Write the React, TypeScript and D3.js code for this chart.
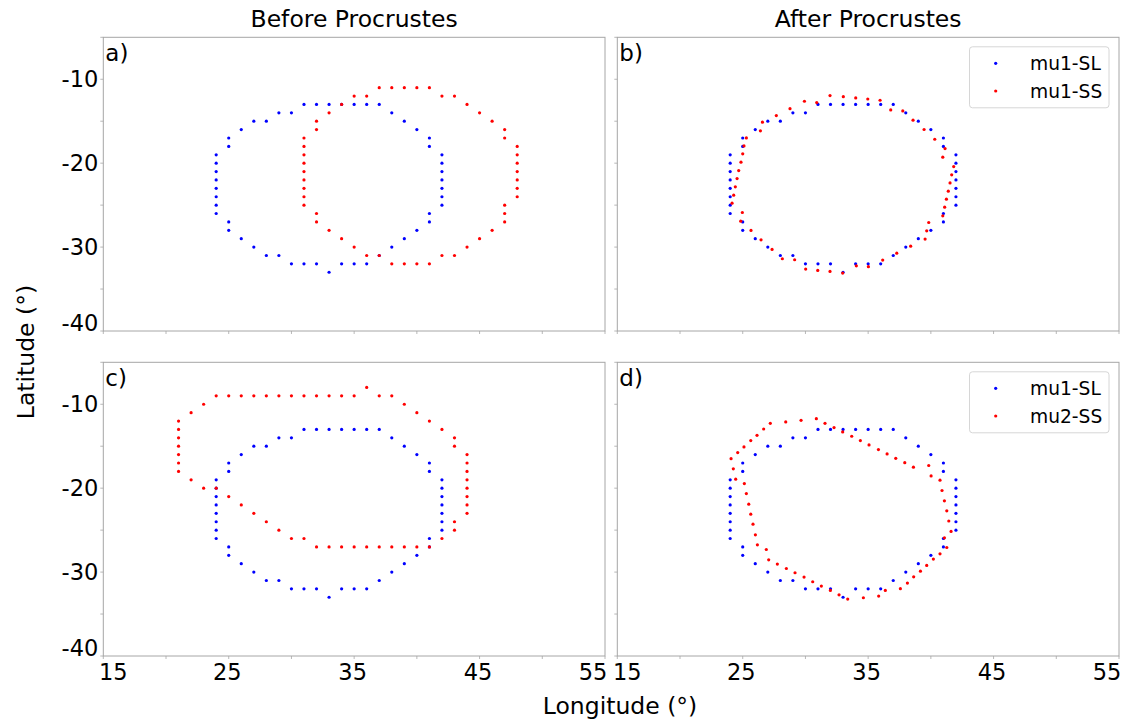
import React from "react";
import * as d3 from "d3";

type Pt = [number, number];

// Reference outline (same in every panel)
const mu1SL: Pt[] = [
  [24, -19], [24, -20], [24, -21], [24, -22], [24, -23], [24, -24], [24, -25], [24, -26],
  [25, -27], [25, -28], [26, -29], [27, -30], [28, -31], [29, -31], [30, -32], [31, -32],
  [32, -32], [33, -33], [34, -32], [35, -32], [36, -32], [37, -31], [38, -30], [39, -29],
  [40, -28], [41, -27], [41, -26],
  [42, -25], [42, -24], [42, -23], [42, -22], [42, -21], [42, -20], [42, -19],
  [41, -18], [41, -17], [40, -16], [39, -15], [38, -14],
  [37, -13], [36, -13], [35, -13], [34, -13], [33, -13], [32, -13], [31, -13],
  [30, -14], [29, -14], [28, -15], [27, -15], [26, -16], [25, -17], [25, -18],
];

// mu1-SS before alignment
const mu1SSBefore: Pt[] = [
  [31, -17], [31, -18], [31, -19], [31, -20], [31, -21], [31, -22], [31, -23], [31, -24], [31, -25],
  [32, -26], [32, -27], [33, -28], [34, -29], [35, -30], [36, -31], [37, -31], [38, -32],
  [39, -32], [40, -32], [41, -32], [42, -31], [43, -31], [44, -30], [45, -29], [46, -28],
  [47, -27], [47, -26], [47, -25],
  [48, -24], [48, -23], [48, -22], [48, -21], [48, -20], [48, -19], [48, -18],
  [47, -17], [47, -16], [46, -15], [45, -14], [44, -13], [43, -12], [42, -12], [41, -11],
  [40, -11], [39, -11], [38, -11], [37, -11], [36, -12], [35, -12], [34, -13], [33, -14],
  [32, -15], [32, -16],
];

// mu1-SS after alignment
const mu1SSAfter: Pt[] = [
  [34.97, -12.35], [34.01, -12.23], [33.02, -12.07], [31.96, -11.95], [30.9, -12.78],
  [29.92, -12.62], [28.77, -13.5], [27.68, -14.33], [26.57, -15.12], [26.41, -16.15],
  [25.29, -16.99], [25.1, -17.94], [25.0, -18.89], [24.86, -19.88], [24.68, -20.88],
  [24.55, -21.83], [24.41, -22.82], [24.28, -23.81], [24.15, -24.77], [24.97, -25.88],
  [24.84, -26.91], [25.66, -28.02], [26.46, -29.13], [27.34, -30.28], [28.16, -31.39],
  [29.14, -31.51], [30.02, -32.62], [30.98, -32.78], [31.96, -32.9], [32.97, -33.1],
  [34.06, -32.23], [35.02, -32.34],
  [36.16, -31.55], [37.28, -30.72], [38.39, -29.89], [39.54, -29.05], [39.67, -28.06],
  [39.83, -27.07], [40.95, -26.27], [41.1, -25.24], [41.24, -24.29], [41.39, -23.34],
  [41.53, -22.35], [41.66, -21.39], [41.82, -20.4], [40.95, -19.29], [41.13, -18.26],
  [40.31, -17.15], [39.46, -15.99], [38.58, -14.88], [37.76, -13.77], [36.8, -13.65],
  [35.95, -12.5],
];

// mu2-SS before alignment
const mu2SSBefore: Pt[] = [
  [21, -12], [21, -13], [21, -14], [21, -15], [21, -16], [21, -17], [21, -18],
  [22, -11], [23, -10],
  [24, -9], [25, -9], [26, -9], [27, -9], [28, -9], [29, -9], [30, -9], [31, -9],
  [32, -9], [33, -9], [34, -9], [35, -9],
  [36, -8], [37, -9], [38, -9], [39, -10], [40, -11], [41, -12], [42, -13],
  [43, -14], [43, -15],
  [44, -16], [44, -17], [44, -18], [44, -19], [44, -20], [44, -21], [44, -22], [44, -23],
  [43, -24], [43, -25], [42, -26],
  [41, -27], [40, -27], [39, -27], [38, -27], [37, -27], [36, -27], [35, -27], [34, -27],
  [33, -27], [32, -27],
  [31, -26], [30, -26], [29, -25], [28, -24], [27, -23], [26, -22], [25, -21],
  [24, -20], [23, -20], [22, -19],
];

// mu2-SS after alignment
const mu2SSAfter: Pt[] = [
  [27.2, -12.27], [28.43, -12.11], [29.65, -11.91], [30.87, -11.72], [31.56, -12.27],
  [32.28, -12.78], [32.97, -13.3], [33.69, -13.81], [34.38, -14.33], [35.07, -14.85],
  [26.67, -12.95], [26.14, -13.7], [25.64, -14.33], [25.1, -15.08], [24.6, -15.76],
  [24.07, -16.48], [24.25, -17.7], [24.44, -18.93], [25.13, -19.45], [25.29, -20.64],
  [25.48, -21.91], [25.64, -23.1], [25.82, -24.29], [26.01, -25.56], [26.17, -26.75],
  [26.88, -27.31], [27.07, -28.54], [27.76, -29.05], [28.48, -29.57], [29.17, -30.08],
  [29.89, -30.6], [30.58, -31.15], [31.27, -31.67], [31.99, -32.19], [32.68, -32.71],
  [33.37, -33.22], [34.62, -33.06],
  [35.82, -15.4], [36.51, -15.92], [37.2, -16.44], [37.92, -16.96], [38.61, -17.5],
  [39.83, -17.3], [40.02, -18.54], [40.73, -19.05], [40.89, -20.28], [41.08, -21.51],
  [41.27, -22.7], [41.43, -23.91], [41.61, -25.16], [41.08, -25.92], [41.27, -27.07],
  [40.73, -27.82], [40.2, -28.45], [39.67, -29.21], [39.17, -29.89], [38.63, -30.56],
  [38.13, -31.31], [37.57, -31.98], [36.37, -32.18], [35.84, -32.86],
];

const xTicks = [15, 20, 25, 30, 35, 40, 45, 50, 55];
const xTickLabels = [15, 25, 35, 45, 55];
const yTicks = [-40, -35, -30, -25, -20, -15, -10, -5];
const yTickLabels = [-40, -30, -20, -10];
const columnTitles = ["Before Procrustes", "After Procrustes"];

const BLUE = "#0000ff";
const RED = "#ff0000";
const FONT = "DejaVu Sans, sans-serif";
const TICK_FS = 22.5;
const LABEL_FS = 23.5;

const colX: [number, number][] = [
  [103.3, 605],
  [617.3, 1119],
];
const rowY: [number, number][] = [
  [37.3, 331],
  [362.3, 656],
];

interface PanelSpec {
  tag: string;
  col: number;
  row: number;
  red: Pt[];
  legend?: [string, string];
}

const panels: PanelSpec[] = [
  { tag: "a)", col: 0, row: 0, red: mu1SSBefore },
  { tag: "b)", col: 1, row: 0, red: mu1SSAfter, legend: ["mu1-SL", "mu1-SS"] },
  { tag: "c)", col: 0, row: 1, red: mu2SSBefore },
  { tag: "d)", col: 1, row: 1, red: mu2SSAfter, legend: ["mu1-SL", "mu2-SS"] },
];

function Panel({ p }: { p: PanelSpec }) {
  const [x0, x1] = colX[p.col];
  const [y0, y1] = rowY[p.row];
  const x = d3.scaleLinear().domain([15, 55]).range([x0, x1]);
  const y = d3.scaleLinear().domain([-40, -5]).range([y1, y0]);
  const showX = p.row === 1;
  const showY = p.col === 0;
  const spine = "#a6a6a6";
  return (
    <g>
      {/* ticks */}
      {xTicks.map((t) => (
        <line key={"xt" + t} x1={x(t)} x2={x(t)} y1={y1} y2={y1 + 3} stroke={spine} strokeWidth={0.8} />
      ))}
      {yTicks.map((t) => (
        <line key={"yt" + t} x1={x0 - 3} x2={x0} y1={y(t)} y2={y(t)} stroke={spine} strokeWidth={0.8} />
      ))}
      {/* points */}
      {mu1SL.map((d, i) => (
        <circle key={"b" + i} cx={x(d[0])} cy={y(d[1])} r={1.6} fill={BLUE} />
      ))}
      {p.red.map((d, i) => (
        <circle key={"r" + i} cx={x(d[0])} cy={y(d[1])} r={1.6} fill={RED} />
      ))}
      <rect x={x0} y={y0} width={x1 - x0} height={y1 - y0} fill="none" stroke={spine} strokeWidth={1} />
      <text x={x0 + 2} y={y0 + 24} fontSize={23} fontFamily={FONT} fill="#000">
        {p.tag}
      </text>
      {showX &&
        xTickLabels.map((t, i) => (
          <text
            key={"xl" + t}
            x={x(t) + (i === 0 ? 10 : i === xTickLabels.length - 1 ? -12 : -1.5)}
            y={y1 + 24}
            textAnchor="middle"
            fontSize={TICK_FS}
            fontFamily={FONT}
            fill="#000"
          >
            {t}
          </text>
        ))}
      {showY &&
        yTickLabels.map((t) => (
          <text
            key={"yl" + t}
            x={x0 - 5}
            y={y(t)}
            dy={t === -40 ? "0" : "0.36em"}
            textAnchor="end"
            fontSize={TICK_FS}
            fontFamily={FONT}
            fill="#000"
          >
            {t}
          </text>
        ))}
      {p.legend && (
        <g>
          <rect
            x={x1 - 149.5}
            y={y0 + 9.5}
            width={139.5}
            height={61}
            rx={3}
            fill="#fff"
            fillOpacity={0.8}
            stroke="#d6d6d6"
            strokeWidth={1}
          />
          {p.legend.map((name, i) => (
            <g key={name}>
              <circle cx={x1 - 123.3} cy={y0 + 26 + i * 27.7} r={1.6} fill={i === 0 ? BLUE : RED} />
              <text
                x={x1 - 89}
                y={y0 + 26 + i * 27.7}
                dy="0.36em"
                fontSize={18.67}
                fontFamily={FONT}
                fill="#000"
              >
                {name}
              </text>
            </g>
          ))}
        </g>
      )}
    </g>
  );
}

export default function App() {
  return (
    <svg width={1126} height={722} style={{ display: "block", position: "absolute", left: 0, top: 0 }}>
      <rect width={1126} height={722} fill="#fff" />
      {columnTitles.map((t, i) => (
        <text
          key={t}
          x={(colX[i][0] + colX[i][1]) / 2}
          y={27}
          textAnchor="middle"
          fontSize={LABEL_FS}
          fontFamily={FONT}
          fill="#000"
        >
          {t}
        </text>
      ))}
      {panels.map((p) => (
        <Panel key={p.tag} p={p} />
      ))}
      <text x={620} y={714} textAnchor="middle" fontSize={LABEL_FS} fontFamily={FONT} fill="#000">
        Longitude (°)
      </text>
      <text
        transform="translate(34,352) rotate(-90)"
        textAnchor="middle"
        fontSize={LABEL_FS}
        fontFamily={FONT}
        fill="#000"
      >
        Latitude (°)
      </text>
    </svg>
  );
}
